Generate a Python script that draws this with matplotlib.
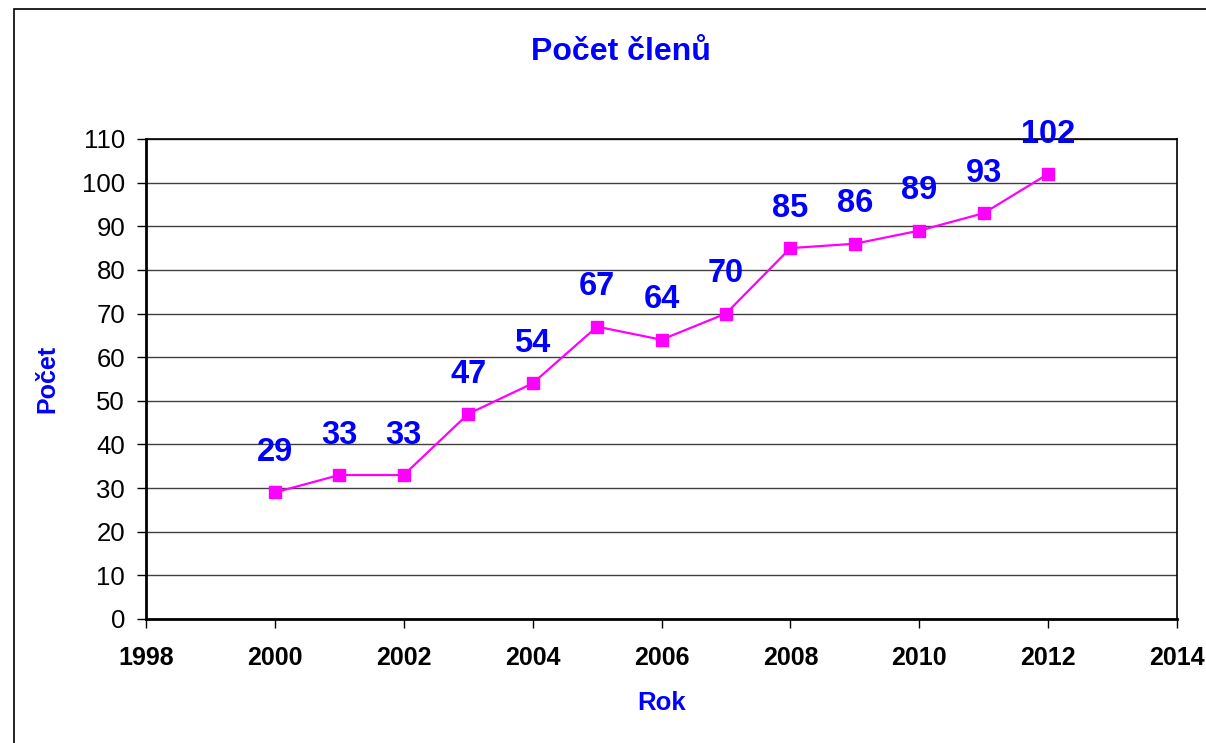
import matplotlib.pyplot as plt
from matplotlib.patches import Rectangle

plt.rcParams['font.family'] = ['Liberation Sans', 'DejaVu Sans']

years = [2000, 2001, 2002, 2003, 2004, 2005, 2006, 2007, 2008, 2009, 2010, 2011, 2012]
members = [29, 33, 33, 47, 54, 67, 64, 70, 85, 86, 89, 93, 102]
x_ticks = [1998, 2000, 2002, 2004, 2006, 2008, 2010, 2012, 2014]
y_ticks = list(range(0, 111, 10))

blue = '#0000ff'
magenta = '#ff00ff'

fig = plt.figure(figsize=(12.06, 7.43), dpi=100)
W, H = 1206, 743
# outer chart border
fig.add_artist(Rectangle((14 / W, -0.01), 1.1, 1 - 9 / H + 0.01, transform=fig.transFigure,
                         fill=False, edgecolor='black', linewidth=1.2))

ax = fig.add_axes([146 / W, 1 - 619 / H, (1177 - 146) / W, (619 - 139) / H])
ax.plot(years, members, color=magenta, linewidth=1.6, marker='s', markersize=9,
        markerfacecolor=magenta, markeredgecolor=magenta)
for x, y in zip(years, members):
    ax.annotate(str(y), (x, y), xytext=(0, 17.5), textcoords='offset points',
                ha='center', va='bottom', color=blue, fontsize=23.5, fontweight='bold')

ax.set_xlim(1998, 2014)
ax.set_ylim(0, 110)
ax.set_xticks(x_ticks)
ax.set_yticks(y_ticks)
ax.set_xticklabels([str(t) for t in x_ticks], fontweight='bold')
ax.tick_params(axis='both', labelsize=18.5, direction='out', length=6.5, width=1, pad=8.5)
ax.tick_params(axis='x', labelsize=18, pad=13)
ax.grid(axis='y', color='#404040', linewidth=1)
ax.set_axisbelow(True)
for s in ['left', 'bottom']:
    ax.spines[s].set_linewidth(2)
for s in ['top', 'right']:
    ax.spines[s].set_linewidth(1.2)

ax.set_xlabel('Rok', color=blue, fontsize=18.5, fontweight='bold', labelpad=15)
ax.set_ylabel('Počet', color=blue, fontsize=18, fontweight='bold', labelpad=16)
fig.text(621 / W, 1 - 52 / H, 'Počet členů', color=blue, fontsize=23, fontweight='bold',
         ha='center', va='center')

fig.savefig('out.png', dpi=100)
